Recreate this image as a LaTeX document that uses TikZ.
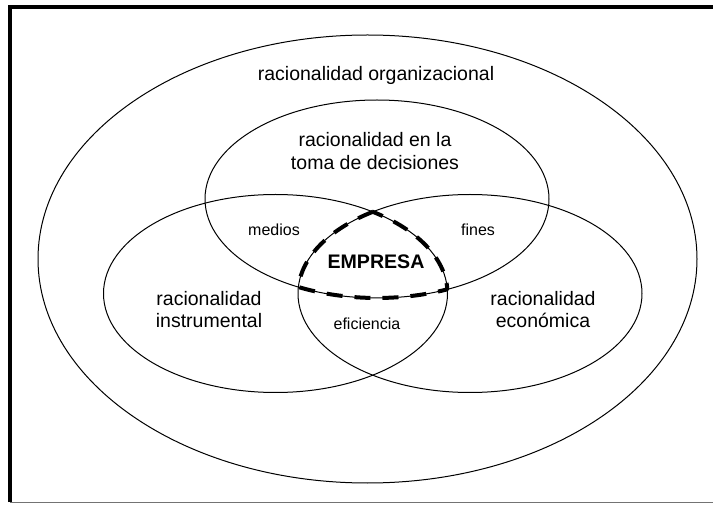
\documentclass[tikz,border=0pt]{standalone}
\usepackage{fontspec}
\setmainfont{Liberation Sans}
\usetikzlibrary{
  positioning
}
\tikzset{
  % For the thin outlines of the sets.
  line/.style={
    line width=0.5pt},
%
  % For the fat dashed outline of the common region.
  dashed line/.style={
    line width=2pt,
    dash pattern=on 8pt off 6pt,
    line join=round},
%
  % For the heavy top and left edges of the frame.
  frame/.style={
    line width=2pt},
%
  % For the bottom edge of the frame.
  frame shadow/.style={
    line width=0.5pt,
    black!55},
%
  % For the names of the sets.
  description/.style={
    inner sep=0pt,
    align=center,
    font=\fontsize{9.75}{11.2}\selectfont},
%
  % For the names of the overlaps.
  remark/.style={
    inner sep=0pt,
    font=\fontsize{8}{9.6}\selectfont},
%
  % For the name of the common region.
  title/.style={
    inner sep=0pt,
    font=\fontsize{9.8}{11.2}\selectfont\bfseries}
}

\begin{document}
\begin{tikzpicture}[x=0.5pt, y=0.5pt]
  \useasboundingbox (0,0) rectangle (713,504);

  % Frame.
  \draw[frame] (10,2) |- (720,497);
  \draw[frame shadow] (10,2) -- (720,2);

  % Centres of the sets.
  \coordinate (organizational) at (367.5,245);
  \coordinate (decision) at (377,305);
  \coordinate (instrumental) at (275.5,210.5);
  \coordinate (economic) at (470,210.5);

  \draw[line] (organizational) ellipse [x radius=329.5, y radius=224];
  \foreach \c in {decision, instrumental, economic}
    \draw[line] (\c) ellipse [x radius=172, y radius=99];

  % Common region of the three inner sets.
  \coordinate (apex) at (372.75,292.16);
  \draw[dashed line] (apex)
    arc [start angle=124.43, end angle=176.26, x radius=172, y radius=99]
    arc [start angle=242.79, end angle=294.15, x radius=172, y radius=99]
    arc [start angle=2.41, end angle=55.57, x radius=172, y radius=99]
    -- cycle;

  \node[description] (organizational label) at (376,429)
    {racionalidad organizacional};
  \node[description] (decision label) at (375,353)
    {racionalidad en la\\toma de decisiones};
  \node[description] (instrumental label) at (209,194.5)
    {racionalidad\\instrumental};
  \node[description] (economic label) at (543,194.5)
    {racionalidad\\económica};

  \node[remark] (means) at (274,274.7) {medios};
  \node[remark] (ends) at (478,274.7) {fines};
  \node[remark] (efficiency) at (367,180) {eficiencia};

  \node[title] (company) at (376,242) {EMPRESA};
\end{tikzpicture}
\end{document}
